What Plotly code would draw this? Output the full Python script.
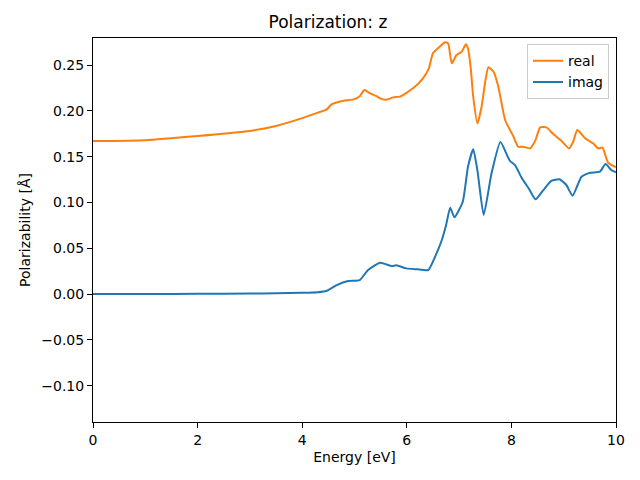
import plotly.graph_objects as go

# Energy grid and values
real_x = [0.0, 1.0, 2.0, 3.0, 3.5, 4.0, 4.3, 4.47, 4.56, 4.79, 4.98, 5.1, 5.19, 5.3, 5.42, 5.49, 5.61, 5.74, 5.87,
          6.12, 6.31, 6.42, 6.5, 6.63, 6.73, 6.79, 6.86, 6.95, 7.05, 7.13, 7.17, 7.22, 7.27, 7.35, 7.43,
          7.5, 7.56, 7.66, 7.75, 7.88, 8.04, 8.13, 8.23, 8.36, 8.46, 8.55, 8.67, 8.8, 8.96, 9.1,
          9.18, 9.26, 9.41, 9.56, 9.66, 9.74, 9.85, 9.98, 10.0]
real_y = [0.167, 0.168, 0.1725, 0.178, 0.1835, 0.192, 0.198, 0.2016, 0.207, 0.211, 0.2125, 0.216, 0.2227, 0.219, 0.216,
          0.2136, 0.212, 0.2147, 0.2155, 0.2246, 0.2355, 0.246, 0.2628, 0.27, 0.2748, 0.2737, 0.2518,
          0.2609, 0.2645, 0.2726, 0.268, 0.248, 0.2155, 0.1863, 0.2045, 0.232, 0.2475, 0.2427, 0.2263,
          0.19, 0.1718, 0.1608, 0.1608, 0.159, 0.168, 0.182, 0.182, 0.1747, 0.167, 0.159, 0.166,
          0.179, 0.17, 0.1645, 0.159, 0.16, 0.1433, 0.139, 0.139]

imag_x = [0.0, 1.0, 2.0, 3.0, 3.5, 4.0, 4.3, 4.47, 4.66, 4.88, 5.1, 5.26, 5.49, 5.71, 5.8, 5.99, 6.2,
          6.41, 6.54, 6.67, 6.75, 6.83, 6.91, 7.07, 7.17, 7.27, 7.35, 7.47, 7.62, 7.79, 7.97,
          8.07, 8.2, 8.33, 8.46, 8.61, 8.77, 8.92, 9.05, 9.17, 9.34, 9.5, 9.69, 9.8, 9.91, 10.0]
imag_y = [0.0, 0.0, 0.0002, 0.0005, 0.0008, 0.0013, 0.002, 0.0036, 0.0098, 0.0142, 0.0153, 0.0262,
          0.0342, 0.0306, 0.0313, 0.028, 0.027, 0.0262, 0.0407, 0.059, 0.075, 0.0942, 0.0837, 0.1008,
          0.139, 0.158, 0.135, 0.0862, 0.1318, 0.166, 0.1455, 0.1408, 0.1263, 0.1154, 0.1034,
          0.1135, 0.1237, 0.1252, 0.119, 0.1073, 0.128, 0.1324, 0.1335, 0.1419, 0.1354, 0.1329]

y_ticks = [-0.10, -0.05, 0.0, 0.05, 0.10, 0.15, 0.20, 0.25]
x_ticks = [0, 2, 4, 6, 8, 10]

fig = go.Figure()
fig.add_trace(go.Scatter(x=real_x, y=real_y, mode="lines", name="real",
                         line=dict(color="#ff7f0e", width=2, shape="spline", smoothing=0.5)))
fig.add_trace(go.Scatter(x=imag_x, y=imag_y, mode="lines", name="imag",
                         line=dict(color="#1f77b4", width=2, shape="spline", smoothing=0.5)))

axis_common = dict(showgrid=False, zeroline=False, showline=True, linecolor="black", linewidth=1,
                   mirror=True, ticks="outside", ticklen=5, tickcolor="black",
                   tickfont=dict(size=14, color="black"))

fig.update_layout(
    width=640, height=480,
    paper_bgcolor="white", plot_bgcolor="white",
    font=dict(family="DejaVu Sans", size=14, color="black"),
    margin=dict(l=85, r=32, t=30, b=66),
    title=dict(text="Polarization: z", x=0.5, xanchor="center", y=0.971, yanchor="middle",
               font=dict(size=17, color="black")),
    xaxis=dict(range=[0, 10], tickvals=x_ticks, ticktext=[str(v) for v in x_ticks],
               title=dict(text="Energy [eV]", font=dict(size=14), standoff=5), **axis_common),
    yaxis=dict(range=[-0.1397, 0.2795], tickvals=y_ticks, ticktext=[f"{v:.2f}".replace("-", "\u2212") for v in y_ticks],
               title=dict(text="Polarizability [Å]", font=dict(size=14), standoff=7), **axis_common),
    legend=dict(x=0.9866, y=0.984, xanchor="right", yanchor="top", bgcolor="rgba(255,255,255,0.8)",
                bordercolor="#cccccc", borderwidth=1, font=dict(size=14)),
    showlegend=True,
)

fig.write_html("out.html")
